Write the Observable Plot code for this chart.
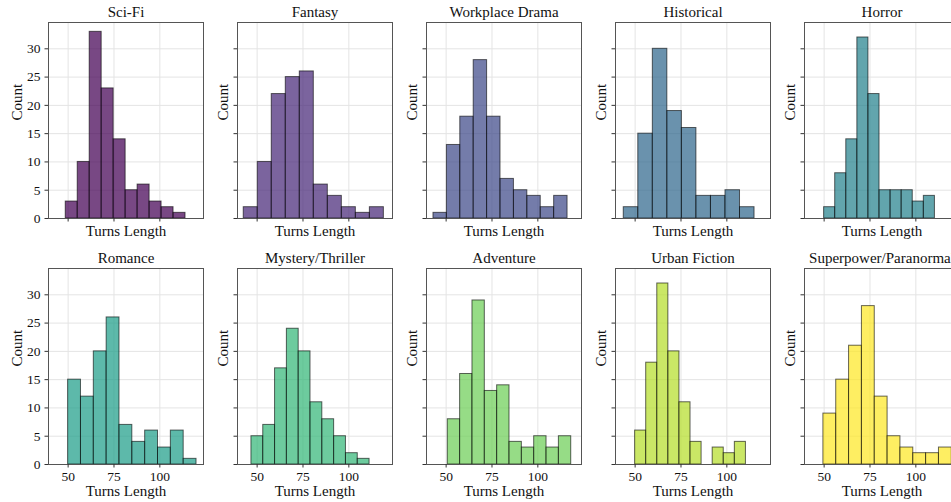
<!DOCTYPE html>
<html><head><meta charset="utf-8">
<script src="https://cdn.jsdelivr.net/npm/d3@7"></script>
<script src="https://cdn.jsdelivr.net/npm/@observablehq/plot@0.6"></script>
<style>
body{margin:0;background:#fff;}
#chart{position:relative;width:951px;height:502px;overflow:hidden;background:#fff;}
#chart svg{position:absolute;overflow:visible;}
#chart svg, #chart svg text, #chart svg g{font-family:"Liberation Serif","DejaVu Serif",serif !important;}
</style></head><body><div id="chart"></div>
<script>
const genres = ["Sci-Fi","Fantasy","Workplace Drama","Historical","Horror","Romance","Mystery/Thriller","Adventure","Urban Fiction","Superpower/Paranormal"];
const binStarts = [48.7, 42.7, 43.1, 43.8, 50.0, 50.0, 46.9, 50.9, 50.0, 49.6];
const binEnds   = [114.0, 119.1, 116.2, 115.1, 110.4, 120.0, 111.3, 118.2, 110.4, 119.6];
const counts = [
  [3,10,33,23,14,5,6,3,2,1],
  [2,10,22,25,26,6,4,2,1,2],
  [1,13,18,28,18,7,5,4,2,4],
  [2,15,30,19,16,4,4,5,2],
  [2,8,14,32,22,5,5,5,3,4],
  [15,12,20,26,7,4,6,3,6,1],
  [5,7,17,24,20,11,8,5,2,1],
  [8,16,29,13,14,4,3,5,3,5],
  [6,18,32,20,11,4,0,3,2,4],
  [9,15,21,28,12,5,3,2,2,3]
];
const colors = ["#440154","#482878","#3e4989","#31688e","#26828e","#1f9e89","#35b779","#6ece58","#b5de2b","#fde725"];
const xTicks = [50,75,100];
const yTicks = [0,5,10,15,20,25,30];
const xDomain = [39.3, 123.8];
const yDomain = [0, 34.65];

const chart = document.getElementById("chart");
const panelW = 155, panelH = 196;
const ML = 48, MR = 4, MT = 22;

genres.forEach((g, i) => {
  const row = Math.floor(i / 5), col = i % 5;
  const n = counts[i].length;
  const w = (binEnds[i] - binStarts[i]) / n;
  const bins = counts[i].map((c, k) => ({x1: binStarts[i] + k * w, x2: binStarts[i] + (k + 1) * w, count: c})).filter(d => d.count > 0);
  const MB = row === 0 ? 32 : 34;
  const plot = Plot.plot({
    width: ML + panelW + MR,
    height: MT + panelH + MB,
    marginLeft: ML, marginRight: MR, marginTop: MT, marginBottom: MB,
    x: {domain: xDomain},
    y: {domain: yDomain},
    style: {background: "transparent", overflow: "visible", color: "#111"},
    marks: [
      Plot.gridX(xTicks, {stroke: "#e4e4e4", strokeOpacity: 1}),
      Plot.gridY(yTicks, {stroke: "#e4e4e4", strokeOpacity: 1}),
      Plot.rectY(bins, {x1: "x1", x2: "x2", y: "count", fill: colors[i], fillOpacity: 0.72, stroke: "#000", strokeOpacity: 0.6, strokeWidth: 1}),
      Plot.frame({stroke: "#555", strokeWidth: 1}),
      Plot.axisX(xTicks, {tickSize: 3.5, tickPadding: 3, fontSize: 13.5, label: null, stroke: "#333",
        tickFormat: row === 1 ? (d => String(d)) : (() => "")}),
      Plot.axisY(yTicks, {tickSize: 3.5, tickPadding: 4.5, fontSize: 13.5, label: null, stroke: "#333",
        tickFormat: col === 0 ? (d => String(d)) : (() => "")}),
      Plot.text([g], {frameAnchor: "top", lineAnchor: "middle", dy: -10, fontSize: 15, fill: "#111"}),
      Plot.text(["Turns Length"], {frameAnchor: "bottom", lineAnchor: "middle", dy: row === 0 ? 13 : 27, fontSize: 15, fill: "#111"}),
      Plot.text(["Count"], {frameAnchor: "left", lineAnchor: "middle", dx: col === 0 ? -31 : -14, rotate: -90, fontSize: 15, fill: "#111"})
    ]
  });
  plot.style.left = (47.7 + 189 * col - ML) + "px";
  plot.style.top = (row === 0 ? 0.3 : 246.3) + "px";
  chart.appendChild(plot);
});
</script>
</body></html>
